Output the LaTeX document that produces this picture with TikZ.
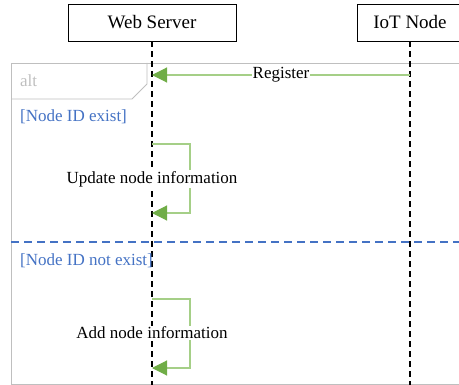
\documentclass[tikz,border=0pt]{standalone}
\usepackage{fontspec}
\setmainfont{Liberation Serif}
\usetikzlibrary{arrows.meta, positioning}

\definecolor{msggreen}{RGB}{112,173,71}
\definecolor{msgline}{RGB}{165,207,135}
\definecolor{framegray}{RGB}{191,191,191}
\definecolor{guardblue}{RGB}{68,114,196}

\tikzset{
  actor/.style={draw, line width=0.8pt, minimum height=37pt, inner sep=2pt,
    font=\fontsize{19}{22}\selectfont},
  lifeline/.style={line width=1.4pt, dash pattern=on 6pt off 4pt},
  msg/.style={draw=msgline, line width=1.1pt,
    -{Triangle[length=15pt, width=15pt, color=msggreen]}},
  msglabel/.style={fill=white, inner sep=1pt, font=\fontsize{17}{20}\selectfont},
  frameline/.style={draw=framegray, line width=0.9pt},
  guard/.style={text=guardblue, anchor=west, inner sep=2pt,
    font=\fontsize{17}{20}\selectfont},
}

\begin{document}
\begin{tikzpicture}[x=1pt, y=-1pt]
  \clip (0,0) rectangle (459,385);

  % alt frame with its tab
  \draw[frameline] (470,63) -- (11,63) -- (11,384) -- (470,384);
  \draw[frameline] (11,99) -- (132,99) -- (147,84) -- (147,63);
  \node[anchor=west, inner sep=2pt, text=framegray,
        font=\fontsize{17}{20}\selectfont] (alt) at (18,81) {alt};

  % operand separator
  \draw[guardblue, line width=1.4pt, dash pattern=on 8pt off 5pt] (11,242) -- (470,242);

  % participants and lifelines
  \node[actor, minimum width=168pt] (ws) at (152,22.5) {Web Server};
  \node[actor, minimum width=106pt] (iot) at (410,22.5) {IoT Node};
  \coordinate (wsend) at (152,385);
  \coordinate (iotend) at (410,385);
  \draw[lifeline] (ws.south) -- (wsend);
  \draw[lifeline] (iot.south) -- (iotend);

  % guards
  \node[guard] (exist) at (18,117) {[Node ID exist]};
  \node[guard] (notexist) at (18,261) {[Node ID not exist]};

  % register message
  \coordinate (regsrc) at (410,75);
  \coordinate (regdst) at (152,75);
  \draw[msg] (regsrc) -- node[msglabel] (reg) {Register} (regdst);

  % self messages
  \coordinate (upd1) at (152,144);
  \coordinate (upd2) at (152,213);
  \draw[msg] (upd1) -- ++(38,0) |- (upd2);
  \node[msglabel] (upd) at (152,179) {Update node information};

  \coordinate (add1) at (152,299);
  \coordinate (add2) at (152,368);
  \draw[msg] (add1) -- ++(38,0) |- (add2);
  \node[msglabel] (add) at (152,333) {Add node information};
\end{tikzpicture}
\end{document}
